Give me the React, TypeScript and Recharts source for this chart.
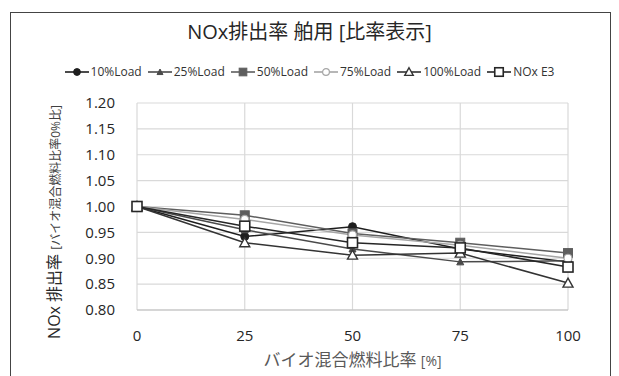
import React from "react";
import { LineChart, Line, XAxis, YAxis, CartesianGrid } from "recharts";

const xValues = [0, 25, 50, 75, 100];
const load10 = [1.0, 0.942, 0.961, 0.918, 0.893];
const load25 = [1.0, 0.955, 0.918, 0.893, 0.895];
const load50 = [1.0, 0.983, 0.948, 0.93, 0.91];
const load75 = [1.0, 0.975, 0.945, 0.925, 0.9];
const load100 = [1.0, 0.93, 0.906, 0.91, 0.852];
const noxE3 = [1.0, 0.962, 0.93, 0.92, 0.883];
const yTicks = [0.8, 0.85, 0.9, 0.95, 1.0, 1.05, 1.1, 1.15, 1.2];

const data = xValues.map((x, i) => ({
  x,
  l10: load10[i],
  l25: load25[i],
  l50: load50[i],
  l75: load75[i],
  l100: load100[i],
  e3: noxE3[i],
}));

type Shape = "circle" | "smallTri" | "square" | "openCircle" | "openTri" | "openSquare";

const SERIES: { key: string; name: string; color: string; shape: Shape }[] = [
  { key: "l10", name: "10%Load", color: "#1e1e1e", shape: "circle" },
  { key: "l25", name: "25%Load", color: "#4a4a4a", shape: "smallTri" },
  { key: "l50", name: "50%Load", color: "#5e5e5e", shape: "square" },
  { key: "l75", name: "75%Load", color: "#a6a6a6", shape: "openCircle" },
  { key: "l100", name: "100%Load", color: "#333333", shape: "openTri" },
  { key: "e3", name: "NOx E3", color: "#262626", shape: "openSquare" },
];

const FONT = "'Open Sans', 'Noto Sans CJK JP', sans-serif";

function marker(shape: Shape, cx: number, cy: number, color: string, scale = 1) {
  const s = scale;
  switch (shape) {
    case "circle":
      return <circle cx={cx} cy={cy} r={4 * s} fill={color} stroke={color} />;
    case "smallTri":
      return <path d={`M${cx},${cy - 3.5 * s} L${cx + 3.5 * s},${cy + 3 * s} L${cx - 3.5 * s},${cy + 3 * s} Z`} fill={color} stroke={color} />;
    case "square":
      return <rect x={cx - 4.5 * s} y={cy - 4.5 * s} width={9 * s} height={9 * s} fill={color} stroke={color} />;
    case "openCircle":
      return <circle cx={cx} cy={cy} r={4 * s} fill="#fff" stroke={color} strokeWidth={1.2} />;
    case "openTri":
      return <path d={`M${cx},${cy - 5 * s} L${cx + 5 * s},${cy + 4 * s} L${cx - 5 * s},${cy + 4 * s} Z`} fill="#fff" stroke={color} strokeWidth={1.4} />;
    case "openSquare":
      return <rect x={cx - 5 * s} y={cy - 5 * s} width={10 * s} height={10 * s} fill="#fff" stroke={color} strokeWidth={1.6} />;
  }
}

function LegendRow() {
  return (
    <div style={{ position: "absolute", left: 0, top: 63, width: 619, display: "flex", justifyContent: "center", gap: 6, fontFamily: FONT, fontSize: 12, color: "#333" }}>
      {SERIES.map(s => (
        <div key={s.key} style={{ display: "flex", alignItems: "center", gap: 2 }}>
          <svg width={24} height={16}>
            <line x1={0} y1={8} x2={24} y2={8} stroke={s.color} strokeWidth={1.6} />
            {marker(s.shape, 12, 8, s.color, 0.85)}
          </svg>
          <span>{s.name}</span>
        </div>
      ))}
    </div>
  );
}

export default function App() {
  return (
    <div style={{ position: "absolute", left: 0, top: 0, width: 619, height: 376, background: "#fff", overflow: "hidden" }}>
      <div style={{ position: "absolute", left: 10, top: 12, width: 601, height: 380, border: "1.5px solid #444", boxSizing: "border-box" }} />
      <div style={{ position: "absolute", left: 0, top: 16, width: 619, textAlign: "center", fontFamily: FONT, fontSize: 20, color: "#262626" }}>
        NOx排出率 舶用 [比率表示]
      </div>
      <LegendRow />
      <div style={{ position: "absolute", left: 53, top: 222, transform: "translate(-50%, -50%) rotate(-90deg)", whiteSpace: "nowrap", fontFamily: FONT, fontSize: 16, color: "#262626" }}>
        NOx 排出率 <span style={{ fontSize: 12, color: "#404040" }}>[バイオ混合燃料比率0%比]</span>
      </div>
      <div style={{ position: "absolute", left: 137, width: 431, top: 346, textAlign: "center", fontFamily: FONT, fontSize: 17, color: "#595959" }}>
        バイオ混合燃料比率 <span style={{ fontSize: 14 }}>[%]</span>
      </div>
      <div style={{ position: "absolute", left: 0, top: 0 }}>
        <LineChart width={619} height={376} data={data} margin={{ top: 103, right: 51, bottom: 36, left: 77 }}>
          <CartesianGrid stroke="#d9d9d9" strokeWidth={1.2} />
          <XAxis
            dataKey="x"
            type="number"
            domain={[0, 100]}
            ticks={xValues}
            height={30}
            tickLine={false}
            axisLine={{ stroke: "#bfbfbf" }}
            tickSize={0}
            tickMargin={20}
            tick={{ fontFamily: FONT, fontSize: 15, fill: "#262626" }}
          />
          <YAxis
            type="number"
            domain={[0.8, 1.2]}
            ticks={yTicks}
            width={60}
            axisLine={false}
            tickLine={false}
            tickSize={0}
            tickMargin={22}
            interval={0}
            tickFormatter={(v: number) => v.toFixed(2)}
            tick={{ fontFamily: FONT, fontSize: 15, fill: "#262626" }}
          />
          {SERIES.map(s => (
            <Line
              key={s.key}
              dataKey={s.key}
              name={s.name}
              stroke={s.color}
              strokeWidth={1.5}
              isAnimationActive={false}
              dot={(p: any) => <g key={`${s.key}-${p.index}`}>{marker(s.shape, p.cx, p.cy, s.color)}</g>}
              activeDot={false}
            />
          ))}
        </LineChart>
      </div>
    </div>
  );
}
